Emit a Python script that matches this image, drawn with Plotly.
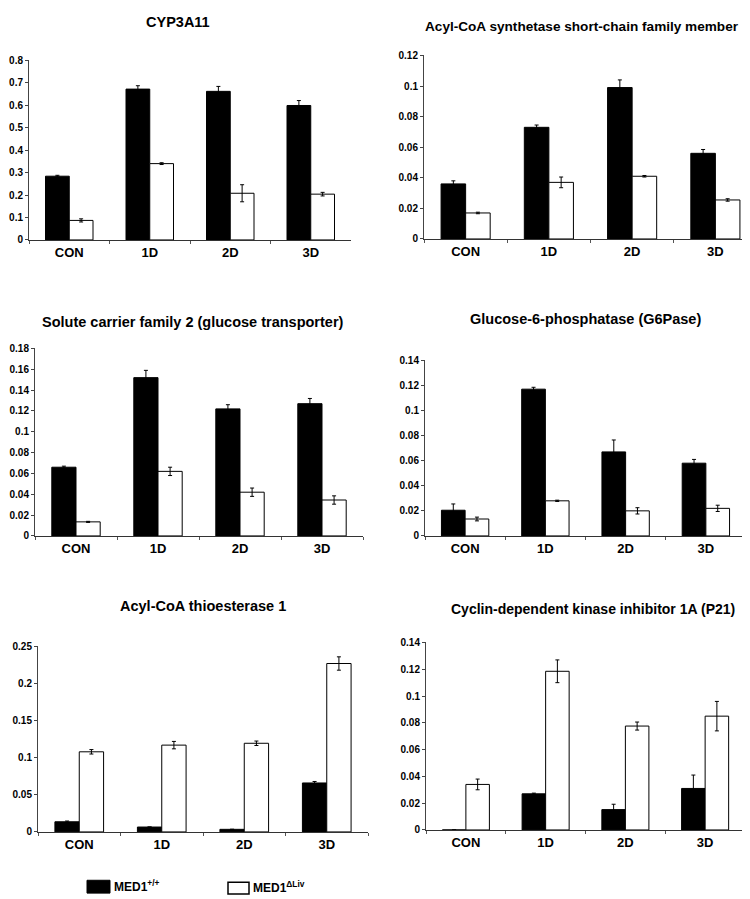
import plotly.graph_objects as go

W, H = 750, 899

categories = ["CON", "1D", "2D", "3D"]

titles = [
    "CYP3A11",
    "Acyl-CoA synthetase short-chain family member",
    "Solute carrier family 2 (glucose transporter)",
    "Glucose-6-phosphatase (G6Pase)",
    "Acyl-CoA thioesterase 1",
    "Cyclin-dependent kinase inhibitor 1A (P21)",
]

cyp_wt = [0.284, 0.672, 0.662, 0.599]
cyp_wt_err = [0.004, 0.015, 0.022, 0.022]
cyp_ko = [0.087, 0.340, 0.208, 0.204]
cyp_ko_err = [0.007, 0.004, 0.038, 0.008]

acss_wt = [0.036, 0.073, 0.099, 0.056]
acss_wt_err = [0.002, 0.0015, 0.005, 0.0025]
acss_ko = [0.017, 0.037, 0.041, 0.0255]
acss_ko_err = [0.0005, 0.0035, 0.0005, 0.0008]

slc_wt = [0.066, 0.152, 0.122, 0.127]
slc_wt_err = [0.001, 0.007, 0.004, 0.005]
slc_ko = [0.0135, 0.062, 0.042, 0.0345]
slc_ko_err = [0.0005, 0.004, 0.004, 0.004]

g6p_wt = [0.0205, 0.117, 0.067, 0.058]
g6p_wt_err = [0.005, 0.0015, 0.0095, 0.003]
g6p_ko = [0.0135, 0.028, 0.020, 0.022]
g6p_ko_err = [0.0015, 0.0005, 0.0025, 0.0025]

acot_wt = [0.0137, 0.0066, 0.0035, 0.066]
acot_wt_err = [0.001, 0.0, 0.0, 0.002]
acot_ko = [0.108, 0.117, 0.1195, 0.227]
acot_ko_err = [0.003, 0.005, 0.003, 0.009]

p21_wt = [0.0, 0.027, 0.0152, 0.031]
p21_wt_err = [0.0, 0.0005, 0.004, 0.010]
p21_ko = [0.034, 0.1185, 0.0776, 0.085]
p21_ko_err = [0.004, 0.0085, 0.003, 0.011]

# y tick labels of each panel
ticks_cyp = ["0", "0.1", "0.2", "0.3", "0.4", "0.5", "0.6", "0.7", "0.8"]
ticks_acss = ["0", "0.02", "0.04", "0.06", "0.08", "0.1", "0.12"]
ticks_slc = ["0", "0.02", "0.04", "0.06", "0.08", "0.1", "0.12", "0.14", "0.16", "0.18"]
ticks_g6p = ["0", "0.02", "0.04", "0.06", "0.08", "0.1", "0.12", "0.14"]
ticks_acot = ["0", "0.05", "0.1", "0.15", "0.2", "0.25"]
ticks_p21 = ["0", "0.02", "0.04", "0.06", "0.08", "0.1", "0.12", "0.14"]

legend_labels = ["MED1<sup>+/+</sup>", "MED1<sup>ΔLiv</sup>"]

series = [
    (cyp_wt, cyp_wt_err, cyp_ko, cyp_ko_err, ticks_cyp),
    (acss_wt, acss_wt_err, acss_ko, acss_ko_err, ticks_acss),
    (slc_wt, slc_wt_err, slc_ko, slc_ko_err, ticks_slc),
    (g6p_wt, g6p_wt_err, g6p_ko, g6p_ko_err, ticks_g6p),
    (acot_wt, acot_wt_err, acot_ko, acot_ko_err, ticks_acot),
    (p21_wt, p21_wt_err, p21_ko, p21_ko_err, ticks_p21),
]

# plot-area boxes in pixels: (x0, x1, ytop, ybottom)
boxes = [
    (21, 343, 47, 229),
    (416, 749, 42, 228),
    (27, 355, 339, 529),
    (417, 738, 351, 529),
    (30, 360, 641, 829),
    (418, 737, 637, 827),
]
# title centers in pixels (x, y) and sizes
title_pos = [(170, 8), (574, 13), (185, 312), (577, 309), (195, 600), (585, 603)]
title_size = [14.5, 13.6, 14.5, 14.5, 14.5, 14]

FONT = "Arial, Liberation Sans, sans-serif"

fig = go.Figure()
layout = dict(
    width=W, height=H,
    margin=dict(l=0, r=0, t=0, b=0),
    paper_bgcolor="white", plot_bgcolor="white",
    barmode="group", bargap=0.41, bargroupgap=0.0,
    showlegend=False,
    font=dict(family=FONT, color="black"),
)

annotations = []
shapes = []

for i, (wt, wte, ko, koe, tlabels) in enumerate(series):
    n = i + 1
    xa = "x" if n == 1 else f"x{n}"
    ya = "y" if n == 1 else f"y{n}"
    fig.add_trace(go.Bar(
        x=categories, y=wt, xaxis=xa, yaxis=ya, name="MED1+/+",
        marker=dict(color="black", line=dict(color="black", width=1)),
        error_y=dict(type="data", array=wte, color="black", thickness=1, width=2),
    ))
    fig.add_trace(go.Bar(
        x=categories, y=ko, xaxis=xa, yaxis=ya, name="MED1ΔLiv",
        marker=dict(color="white", line=dict(color="black", width=1)),
        error_y=dict(type="data", array=koe, color="black", thickness=1, width=2),
    ))
    x0, x1, yt, yb = boxes[i]
    xkey = "xaxis" if n == 1 else f"xaxis{n}"
    ykey = "yaxis" if n == 1 else f"yaxis{n}"
    tvals = [float(t) for t in tlabels]
    layout[xkey] = dict(
        domain=[x0 / W, x1 / W], anchor=ya,
        type="category", showline=True, linecolor="#333", linewidth=1,
        ticks="outside", tickson="boundaries", ticklen=3, tickcolor="#555",
        tickfont=dict(family=FONT, size=13, weight="bold", color="black"),
        showgrid=False, zeroline=False, fixedrange=True,
    )
    layout[ykey] = dict(
        domain=[1 - yb / H, 1 - yt / H], anchor=xa,
        range=[0, tvals[-1]],
        tickmode="array", tickvals=tvals,
        ticktext=[f"<b>{t}</b>" for t in tlabels],
        showline=True, linecolor="#444", linewidth=1,
        ticks="outside", ticklen=3, tickcolor="#444",
        tickfont=dict(family=FONT, size=10, color="black"),
        showgrid=False, zeroline=False, fixedrange=True,
    )
    tx, ty = title_pos[i]
    annotations.append(dict(
        x=tx / W, y=1 - ty / H, xref="paper", yref="paper",
        text=f"<b>{titles[i]}</b>", showarrow=False,
        xanchor="center", yanchor="middle",
        font=dict(family=FONT, size=title_size[i], color="black"),
    ))

# legend (drawn as shapes + text)
shapes.append(dict(type="rect", xref="paper", yref="paper",
                   x0=79 / W, x1=102 / W, y0=1 - 891 / H, y1=1 - 878 / H,
                   fillcolor="black", line=dict(color="black", width=1)))
shapes.append(dict(type="rect", xref="paper", yref="paper",
                   x0=220 / W, x1=241 / W, y0=1 - 892 / H, y1=1 - 880 / H,
                   fillcolor="white", line=dict(color="black", width=1.5)))
annotations.append(dict(x=104 / W, y=1 - 884 / H, xref="paper", yref="paper",
                        text=f"<b>{legend_labels[0]}</b>", showarrow=False,
                        xanchor="left", yanchor="middle",
                        font=dict(family=FONT, size=12, color="black")))
annotations.append(dict(x=243 / W, y=1 - 885 / H, xref="paper", yref="paper",
                        text=f"<b>{legend_labels[1]}</b>", showarrow=False,
                        xanchor="left", yanchor="middle",
                        font=dict(family=FONT, size=12, color="black")))

layout["annotations"] = annotations
layout["shapes"] = shapes
fig.update_layout(**layout)
fig.write_html("out.html")
